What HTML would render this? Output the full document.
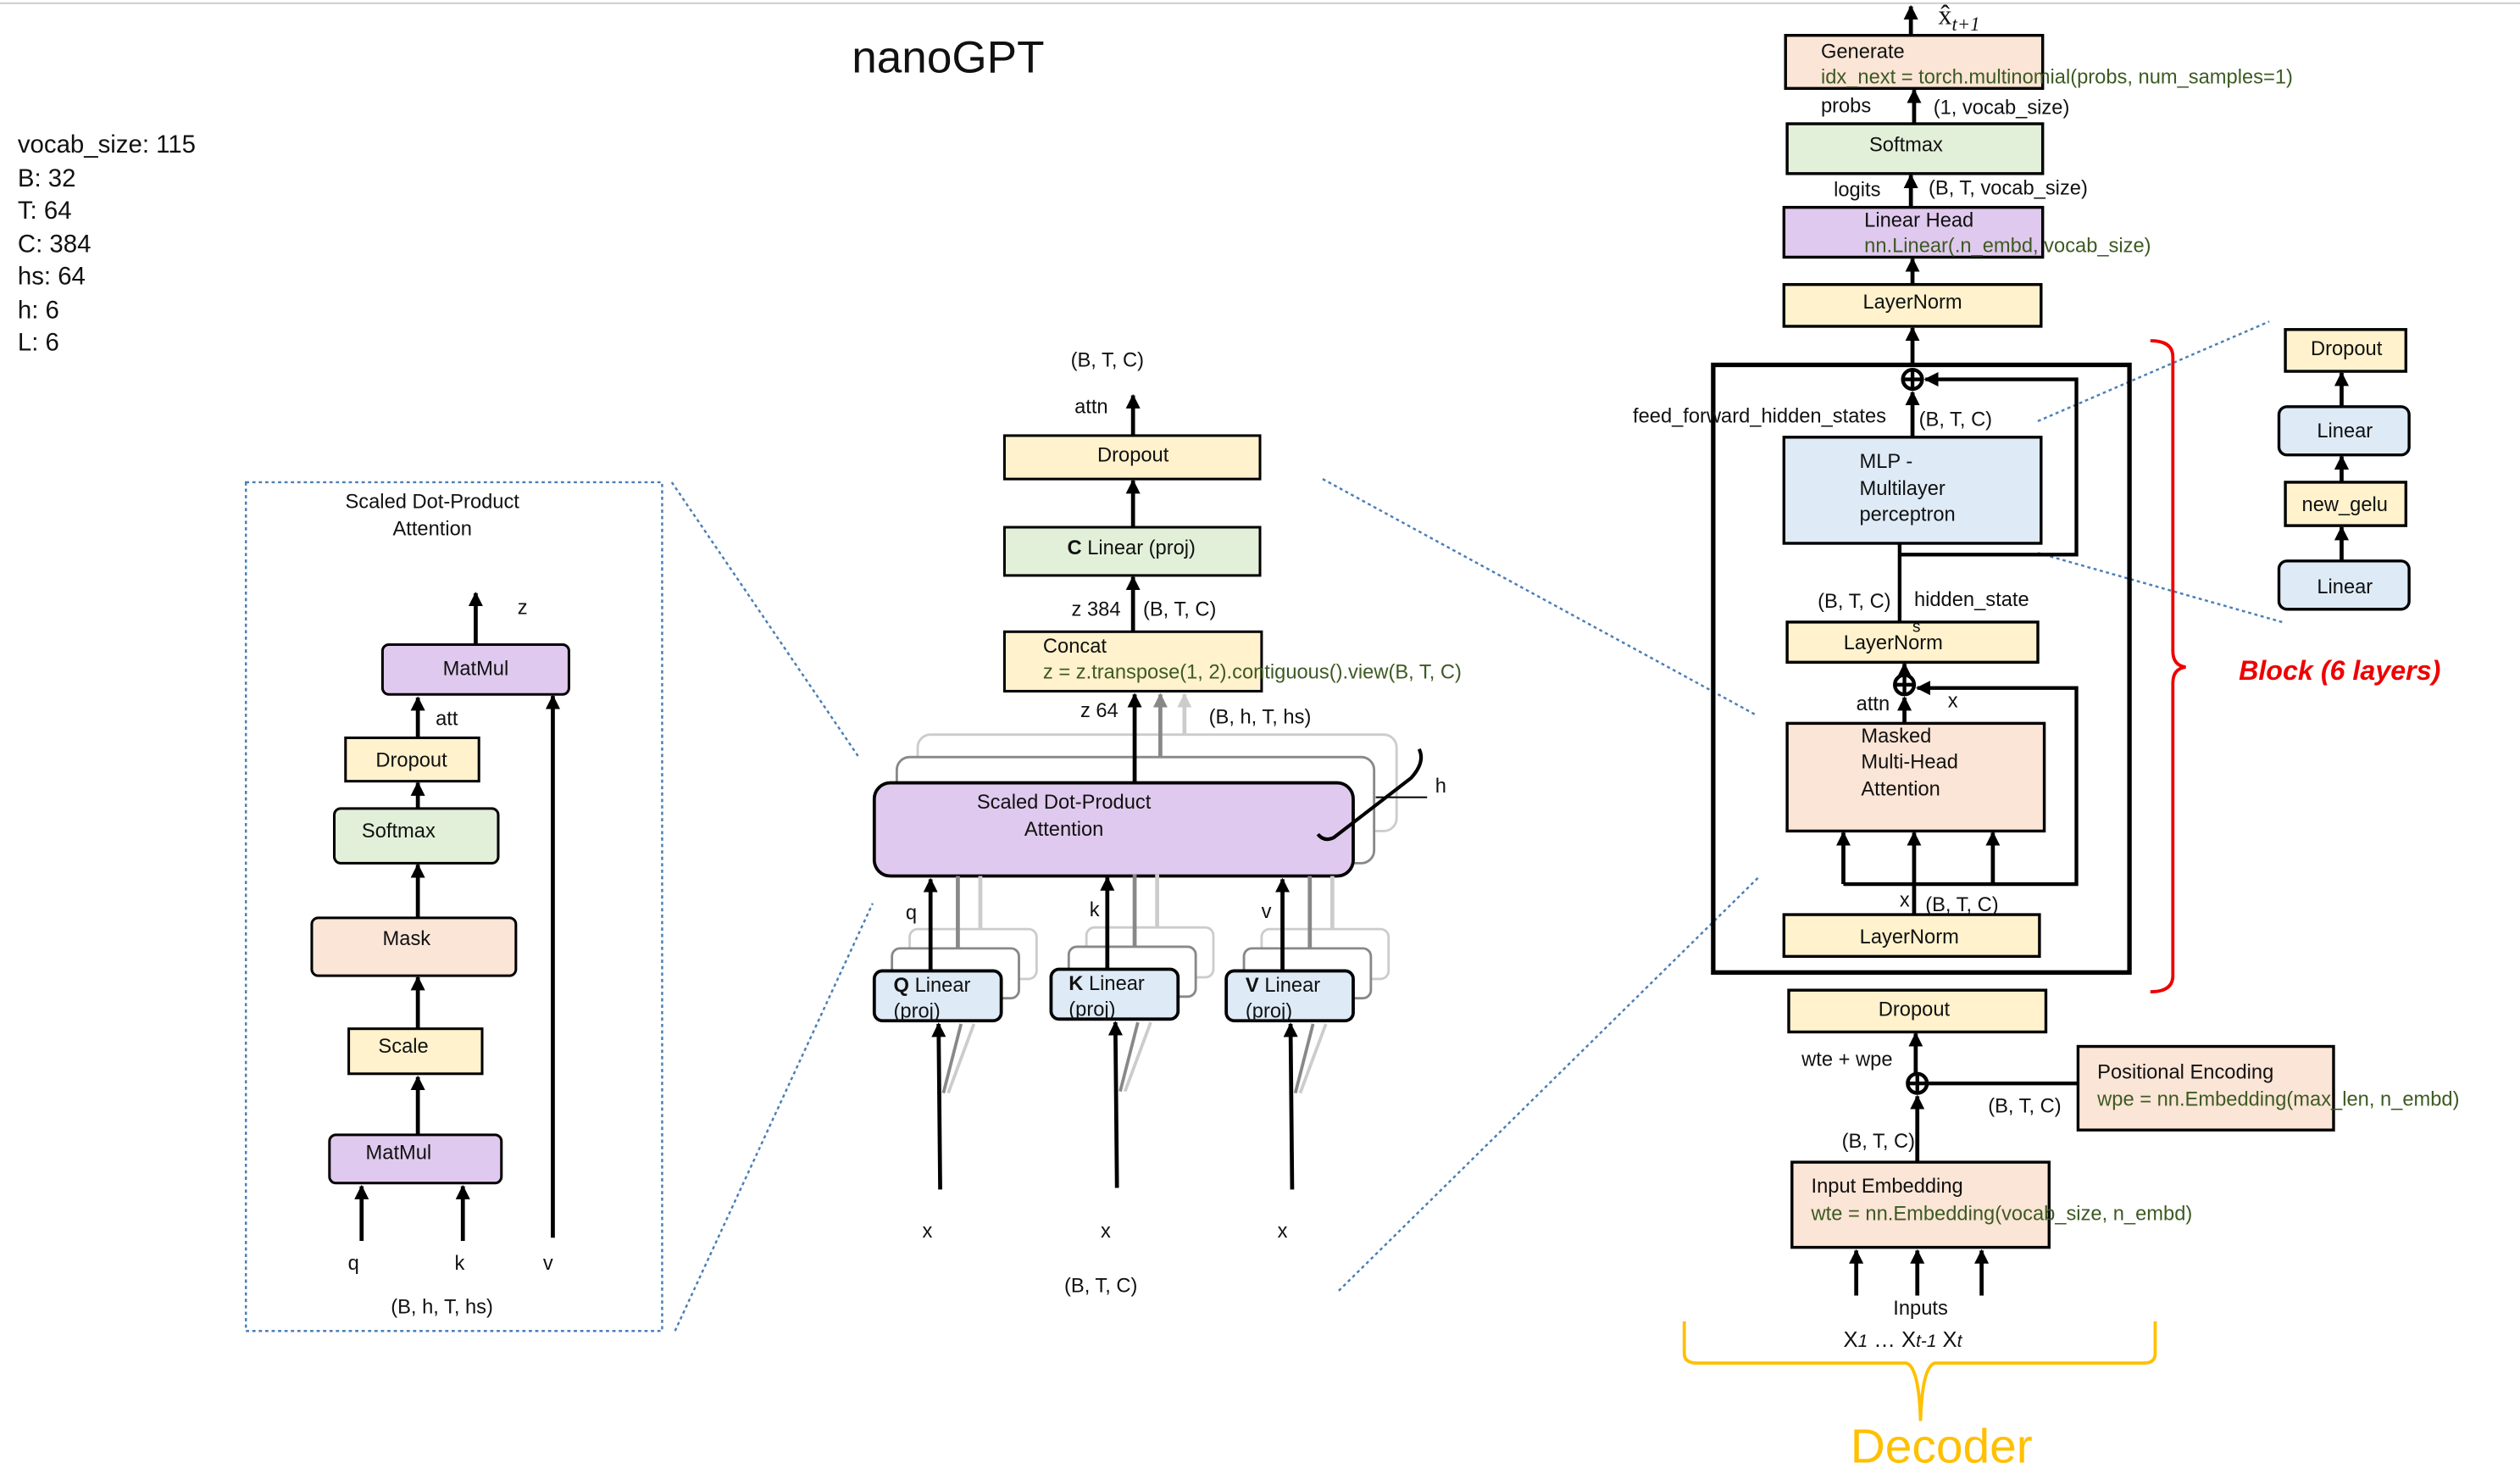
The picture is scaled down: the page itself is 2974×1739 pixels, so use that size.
<!DOCTYPE html>
<html><head><meta charset="utf-8"><style>
html,body{margin:0;padding:0;background:#fff}
svg{display:block}
text{font-family:"Liberation Sans Narrow","Liberation Sans",sans-serif;font-size:12.5px;fill:#111}
text.p{font-size:15.5px}
.c{fill:#3d5a22}
.m{text-anchor:middle}
</style></head><body>
<svg width="2974" height="1739" viewBox="0 0 1568 917" preserveAspectRatio="none" xmlns="http://www.w3.org/2000/svg">
<defs>
<marker id="ah" viewBox="0 0 10 10" refX="9" refY="5" markerWidth="9" markerHeight="9" orient="auto-start-reverse" markerUnits="userSpaceOnUse"><path d="M0,0 L10,5 L0,10 z" fill="#000"/></marker>
<marker id="ag" viewBox="0 0 10 10" refX="9" refY="5" markerWidth="9" markerHeight="9" orient="auto" markerUnits="userSpaceOnUse"><path d="M0,0 L10,5 L0,10 z" fill="#888"/></marker>
<marker id="al" viewBox="0 0 10 10" refX="9" refY="5" markerWidth="9" markerHeight="9" orient="auto" markerUnits="userSpaceOnUse"><path d="M0,0 L10,5 L0,10 z" fill="#ccc"/></marker>
</defs>
<line x1="0" y1="2" x2="1568" y2="2" stroke="#ccc" stroke-width="1"/>
<text x="530" y="45" style="font-size:28px">nanoGPT</text>
<text class="p" x="11" y="95">vocab_size: 115</text><text class="p" x="11" y="116">B: 32</text><text class="p" x="11" y="136">T: 64</text><text class="p" x="11" y="157">C: 384</text><text class="p" x="11" y="177">hs: 64</text><text class="p" x="11" y="198">h: 6</text><text class="p" x="11" y="218">L: 6</text>
<g stroke="#4a7fb5" stroke-width="1.3" stroke-dasharray="2,2" fill="none">
<rect x="153" y="300" width="259" height="528"/>
<line x1="418" y1="300" x2="535" y2="472"/><line x1="420" y1="828" x2="543" y2="562"/>
<line x1="823" y1="298" x2="1093" y2="445"/><line x1="833" y1="803" x2="1095" y2="545"/>
<line x1="1268" y1="262" x2="1412" y2="200"/><line x1="1268" y1="344" x2="1420" y2="387"/>
</g>
<text x="269" y="316" class="m">Scaled Dot-Product</text><text x="269" y="333" class="m">Attention</text>
<g stroke="#000" stroke-width="1.6">
<rect x="238" y="401" width="116" height="31" rx="4" fill="#e0c9ee"/>
<rect x="215" y="459" width="83" height="27" fill="#fff2cc"/>
<rect x="208" y="503" width="102" height="34" rx="4" fill="#e2f0d9"/>
<rect x="194" y="571" width="127" height="36" rx="4" fill="#fbe5d6"/>
<rect x="217" y="640" width="83" height="28" fill="#fff2cc"/>
<rect x="205" y="706" width="107" height="30" rx="4" fill="#e0c9ee"/>
</g>
<g stroke="#000" stroke-width="2.5" marker-end="url(#ah)">
<line x1="296" y1="401" x2="296" y2="369"/><line x1="260" y1="459" x2="260" y2="434"/><line x1="260" y1="503" x2="260" y2="487"/>
<line x1="260" y1="571" x2="260" y2="538"/><line x1="260" y1="640" x2="260" y2="608"/><line x1="260" y1="706" x2="260" y2="670"/>
<line x1="225" y1="772" x2="225" y2="738"/><line x1="288" y1="772" x2="288" y2="738"/><line x1="344" y1="770" x2="344" y2="433"/>
</g>
<text x="296" y="420" class="m">MatMul</text><text x="256" y="477" class="m">Dropout</text><text x="248" y="521" class="m">Softmax</text>
<text x="253" y="588" class="m">Mask</text><text x="251" y="655" class="m">Scale</text><text x="248" y="721" class="m">MatMul</text>
<text x="322" y="382">z</text><text x="278" y="451" class="m">att</text>
<text x="220" y="790" class="m">q</text><text x="286" y="790" class="m">k</text><text x="341" y="790" class="m">v</text>
<text x="275" y="817" class="m">(B, h, T, hs)</text>
<text x="689" y="228" class="m">(B, T, C)</text><text x="679" y="257" class="m">attn</text>
<g stroke="#000" stroke-width="1.6">
<rect x="625" y="271" width="159" height="27" fill="#fff2cc"/>
<rect x="625" y="328" width="159" height="30" fill="#e2f0d9"/>
<rect x="625" y="393" width="160" height="37" fill="#fff2cc"/>
</g>
<g stroke="#000" stroke-width="2.5" marker-end="url(#ah)">
<line x1="705" y1="271" x2="705" y2="246"/><line x1="705" y1="328" x2="705" y2="299"/><line x1="705" y1="393" x2="705" y2="359"/>
</g>
<text x="705" y="287" class="m">Dropout</text>
<text x="704" y="345" class="m"><tspan font-weight="bold">C</tspan> Linear (proj)</text>
<text x="682" y="383" class="m">z 384</text><text x="734" y="383" class="m">(B, T, C)</text>
<text x="649" y="406">Concat</text><text x="649" y="422" class="c">z = z.transpose(1, 2).contiguous().view(B, T, C)</text>
<text x="684" y="446" class="m">z 64</text><text x="784" y="450" class="m">(B, h, T, hs)</text>
<rect x="571" y="457" width="298" height="60" rx="8" fill="#fff" stroke="#ccc" stroke-width="1.5"/>
<rect x="558" y="471" width="297" height="66" rx="8" fill="#fff" stroke="#888" stroke-width="1.5"/>
<line x1="737" y1="457" x2="737" y2="432" stroke="#ccc" stroke-width="2.5" marker-end="url(#al)"/>
<line x1="722" y1="471" x2="722" y2="432" stroke="#888" stroke-width="2.5" marker-end="url(#ag)"/>
<rect x="544" y="487" width="298" height="58" rx="10" fill="#e0c9ee" stroke="#000" stroke-width="2"/>
<line x1="706" y1="487" x2="706" y2="432" stroke="#000" stroke-width="2.5" marker-end="url(#ah)"/>
<text x="662" y="503" class="m">Scaled Dot-Product</text><text x="662" y="520" class="m">Attention</text>
<path d="M883,466 Q887,474 878,484 L830,521 Q824,524 820,519" fill="none" stroke="#000" stroke-width="2.2"/>
<line x1="856" y1="496" x2="888" y2="496" stroke="#000" stroke-width="1"/>
<text x="893" y="493">h</text>
<g id="qkv">
<rect x="566" y="578" width="79" height="31" rx="5" fill="#fff" stroke="#ccc" stroke-width="1.5"/>
<rect x="555" y="590" width="79" height="31" rx="5" fill="#fff" stroke="#888" stroke-width="1.5"/>
<line x1="596" y1="545" x2="596" y2="590" stroke="#888" stroke-width="2.5"/>
<line x1="610" y1="545" x2="610" y2="578" stroke="#ccc" stroke-width="2.5"/>
<rect x="544" y="604" width="79" height="31" rx="5" fill="#deebf7" stroke="#000" stroke-width="2"/>
<line x1="579" y1="604" x2="579" y2="547" stroke="#000" stroke-width="2.5" marker-end="url(#ah)"/>
<line x1="585" y1="740" x2="584" y2="637" stroke="#000" stroke-width="2.5" marker-end="url(#ah)"/>
<line x1="587" y1="680" x2="598" y2="637" stroke="#888" stroke-width="2"/>
<line x1="590" y1="680" x2="606" y2="637" stroke="#ccc" stroke-width="2"/>
</g>
<use href="#qkv" x="110" y="-1"/><use href="#qkv" x="219" y="0"/>
<text x="556" y="617"><tspan font-weight="bold">Q</tspan> Linear</text><text x="556" y="633">(proj)</text>
<text x="665" y="616"><tspan font-weight="bold">K</tspan> Linear</text><text x="665" y="632">(proj)</text>
<text x="775" y="617"><tspan font-weight="bold">V</tspan> Linear</text><text x="775" y="633">(proj)</text>
<text x="567" y="572" class="m">q</text><text x="681" y="570" class="m">k</text><text x="788" y="571" class="m">v</text>
<text x="577" y="770" class="m">x</text><text x="688" y="770" class="m">x</text><text x="798" y="770" class="m">x</text>
<text x="685" y="804" class="m">(B, T, C)</text>
<g stroke="#000" stroke-width="1.8">
<rect x="1111" y="22" width="160" height="33" fill="#fbe5d6"/>
<rect x="1112" y="77" width="159" height="31" fill="#e2f0d9"/>
<rect x="1110" y="129" width="161" height="31" fill="#e0c9ee"/>
<rect x="1110" y="177" width="160" height="26" fill="#fff2cc"/>
<rect x="1066" y="227" width="259" height="378" fill="none" stroke-width="2.8"/>
<rect x="1110" y="272" width="160" height="66" fill="#deebf7"/>
<rect x="1112" y="387" width="156" height="25" fill="#fff2cc"/>
<rect x="1112" y="450" width="160" height="67" fill="#fbe5d6"/>
<rect x="1110" y="569" width="159" height="26" fill="#fff2cc"/>
<rect x="1113" y="616" width="160" height="26" fill="#fff2cc"/>
<rect x="1293" y="651" width="159" height="52" fill="#fbe5d6"/>
<rect x="1115" y="723" width="160" height="53" fill="#fbe5d6"/>
<rect x="1422" y="205" width="75" height="26" fill="#fff2cc"/>
<rect x="1418" y="253" width="81" height="30" rx="5" fill="#deebf7"/>
<rect x="1422" y="300" width="75" height="27" fill="#fff2cc"/>
<rect x="1418" y="349" width="81" height="30" rx="5" fill="#deebf7"/>
</g>
<g stroke="#000" stroke-width="2.3" fill="none">
<circle cx="1190" cy="236" r="6" fill="#fff"/><line x1="1184" y1="236" x2="1196" y2="236"/><line x1="1190" y1="230" x2="1190" y2="242"/>
<circle cx="1185" cy="426" r="6" fill="#fff"/><line x1="1179" y1="426" x2="1191" y2="426"/><line x1="1185" y1="420" x2="1185" y2="432"/>
<circle cx="1193" cy="674" r="6" fill="#fff"/><line x1="1187" y1="674" x2="1199" y2="674"/><line x1="1193" y1="668" x2="1193" y2="680"/>
<polyline points="1182,345 1292,345 1292,236 1198,236" marker-end="url(#ah)"/>
<polyline points="1147,550 1292,550 1292,428 1193,428" marker-end="url(#ah)"/>
<line x1="1182" y1="387" x2="1182" y2="338"/>
<line x1="1199" y1="674" x2="1293" y2="674"/>
</g>
<g stroke="#000" stroke-width="2.5" marker-end="url(#ah)">
<line x1="1189" y1="22" x2="1189" y2="4"/><line x1="1191" y1="77" x2="1191" y2="56"/><line x1="1189" y1="129" x2="1189" y2="109"/>
<line x1="1190" y1="177" x2="1190" y2="161"/><line x1="1190" y1="227" x2="1190" y2="204"/><line x1="1190" y1="272" x2="1190" y2="244"/>
<line x1="1185" y1="420" x2="1185" y2="413"/><line x1="1185" y1="450" x2="1185" y2="434"/>
<line x1="1147" y1="550" x2="1147" y2="518"/><line x1="1191" y1="569" x2="1191" y2="518"/><line x1="1240" y1="550" x2="1240" y2="518"/>
<line x1="1192" y1="668" x2="1192" y2="643"/><line x1="1193" y1="723" x2="1193" y2="682"/>
<line x1="1155" y1="806" x2="1155" y2="778"/><line x1="1193" y1="806" x2="1193" y2="778"/><line x1="1233" y1="806" x2="1233" y2="778"/>
<line x1="1457" y1="253" x2="1457" y2="232"/><line x1="1457" y1="300" x2="1457" y2="284"/><line x1="1457" y1="349" x2="1457" y2="328"/>
</g>
<text x="1206" y="15" style="font-family:'Liberation Serif',serif;font-size:17px">x̂<tspan style="font-size:12px;font-style:italic" dy="4">t+1</tspan></text>
<text x="1133" y="36">Generate</text><text x="1133" y="52" class="c">idx_next = torch.multinomial(probs, num_samples=1)</text>
<text x="1133" y="70">probs</text><text x="1203" y="71">(1, vocab_size)</text>
<text x="1186" y="94" class="m">Softmax</text>
<text x="1141" y="122">logits</text><text x="1200" y="121">(B, T, vocab_size)</text>
<text x="1160" y="141">Linear Head</text><text x="1160" y="157" class="c">nn.Linear(.n_embd, vocab_size)</text>
<text x="1190" y="192" class="m">LayerNorm</text>
<text x="1016" y="263">feed_forward_hidden_states</text><text x="1194" y="265">(B, T, C)</text>
<text x="1157" y="291">MLP -</text><text x="1157" y="308">Multilayer</text><text x="1157" y="324">perceptron</text>
<text x="1131" y="378">(B, T, C)</text><text x="1191" y="377">hidden_state</text><text x="1190" y="393" style="font-size:10px">s</text>
<text x="1178" y="404" class="m">LayerNorm</text>
<text x="1155" y="442">attn</text><text x="1212" y="440">x</text>
<text x="1158" y="462">Masked</text><text x="1158" y="478">Multi-Head</text><text x="1158" y="495">Attention</text>
<text x="1182" y="564">x</text><text x="1198" y="567">(B, T, C)</text>
<text x="1188" y="587" class="m">LayerNorm</text>
<text x="1191" y="632" class="m">Dropout</text>
<text x="1121" y="663">wte + wpe</text>
<text x="1305" y="671">Positional Encoding</text><text x="1305" y="688" class="c">wpe = nn.Embedding(max_len, n_embd)</text>
<text x="1237" y="692">(B, T, C)</text><text x="1146" y="714">(B, T, C)</text>
<text x="1127" y="742">Input Embedding</text><text x="1127" y="759" class="c">wte = nn.Embedding(vocab_size, n_embd)</text>
<text x="1195" y="818" class="m">Inputs</text>
<text x="1147" y="838" style="font-size:13.5px">X<tspan font-style="italic" font-size="11">1</tspan> … X<tspan font-style="italic" font-size="11">t-1</tspan>  X<tspan font-style="italic" font-size="11">t</tspan></text>
<text x="1460" y="221" class="m">Dropout</text><text x="1459" y="272" class="m">Linear</text><text x="1459" y="318" class="m">new_gelu</text><text x="1459" y="369" class="m">Linear</text>
<path d="M1048,822 L1048,842 Q1048,848 1056,848 L1186,848 Q1194,850 1195,884 Q1196,850 1204,848 L1334,848 Q1341,848 1341,842 L1341,822" fill="none" stroke="#ffc000" stroke-width="2"/>
<text x="1208" y="910" class="m" style="font-size:30px;fill:#ffc000">Decoder</text>
<path d="M1338,212 Q1352,212 1352,222 L1352,405 Q1352,414 1360,415 Q1352,416 1352,425 L1352,607 Q1352,617 1338,617" fill="none" stroke="#e00" stroke-width="2"/>
<text x="1393" y="423" style="font-size:17px;font-weight:bold;font-style:italic;fill:#e00">Block (6 layers)</text>
</svg>
</body></html>
